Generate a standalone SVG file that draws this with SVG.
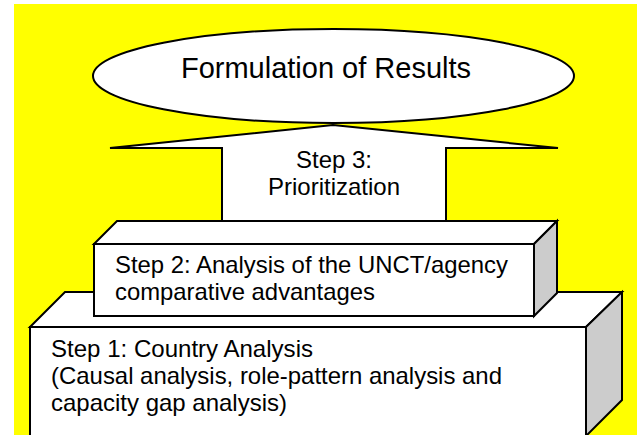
<svg xmlns="http://www.w3.org/2000/svg" width="637" height="435" viewBox="0 0 637 435">
<style>
.ln{stroke:#000;stroke-width:2;stroke-linejoin:miter}
.w{fill:#fff}
.g{fill:#cccccc}
.t{font-family:"Liberation Sans",Arial,sans-serif;font-size:24px;fill:#000}
</style>
<rect x="0" y="0" width="637" height="435" fill="#fff"/>
<rect x="14" y="4" width="623" height="431" fill="#ffff00"/>
<g id="connectors">
<polygon id="arrow" class="ln w" points="222,221 222,148 110,148 333,125 558,148 446,148 446,221"/>
</g>
<g id="results">
<ellipse class="ln w" cx="333.5" cy="76" rx="240.5" ry="47"/>
<text class="t" x="326" y="78" text-anchor="middle" style="font-size:29px">Formulation of Results</text>
</g>
<g id="step3">
<text class="t" x="334" y="168" text-anchor="middle" textLength="76" lengthAdjust="spacingAndGlyphs">Step 3:</text>
<text class="t" x="334" y="195" text-anchor="middle" textLength="132" lengthAdjust="spacingAndGlyphs">Prioritization</text>
</g>
<g id="step1">
<polygon class="ln w" points="30,327 65,292 622,292 586,327"/>
<polygon class="ln g" points="586,327 622,292 622,400 586,436"/>
<rect class="ln w" x="30" y="327" width="556" height="115"/>
<text class="t" x="51" y="357" textLength="262" lengthAdjust="spacingAndGlyphs">Step 1: Country Analysis</text>
<text class="t" x="51" y="384" textLength="451" lengthAdjust="spacingAndGlyphs">(Causal analysis, role-pattern analysis and</text>
<text class="t" x="51" y="411" textLength="236" lengthAdjust="spacingAndGlyphs">capacity gap analysis)</text>
</g>
<g id="step2">
<polygon class="ln w" points="94,244 117,221 557,221 534,244"/>
<polygon class="ln g" points="534,244 557,221 557,293 534,316"/>
<rect class="ln w" x="94" y="244" width="440" height="72"/>
<text class="t" x="115" y="273" textLength="393" lengthAdjust="spacingAndGlyphs">Step 2: Analysis of the UNCT/agency</text>
<text class="t" x="115" y="300" textLength="260" lengthAdjust="spacingAndGlyphs">comparative advantages</text>
</g>
</svg>
